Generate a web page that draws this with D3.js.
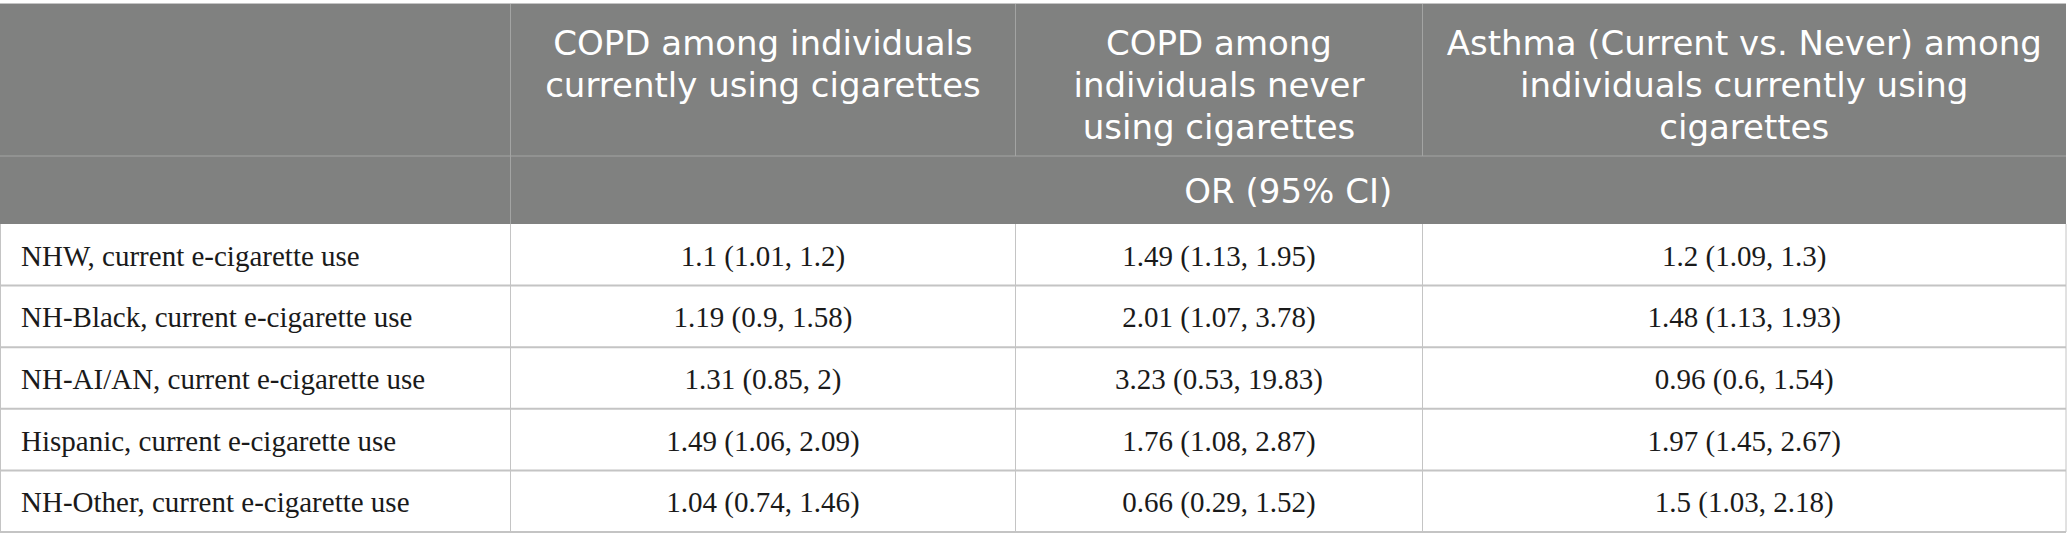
<!DOCTYPE html>
<html>
<head>
<meta charset="utf-8">
<script src="https://cdn.jsdelivr.net/npm/d3@7"></script>
<style>
  body { margin: 0; background: #fff; }
</style>
</head>
<body>
<div id="table"></div>
<script>
// Data
var columnHeaders = [
  "",
  ["COPD among individuals", "currently using cigarettes"],
  ["COPD among", "individuals never", "using cigarettes"],
  ["Asthma (Current vs. Never) among", "individuals currently using", "cigarettes"]
]
var subHeader = "OR (95% CI)"
var rowLabels = [
  "NHW, current e-cigarette use",
  "NH-Black, current e-cigarette use",
  "NH-AI/AN, current e-cigarette use",
  "Hispanic, current e-cigarette use",
  "NH-Other, current e-cigarette use"
]
var copdCurrent = ["1.1 (1.01, 1.2)", "1.19 (0.9, 1.58)", "1.31 (0.85, 2)", "1.49 (1.06, 2.09)", "1.04 (0.74, 1.46)"]
var copdNever = ["1.49 (1.13, 1.95)", "2.01 (1.07, 3.78)", "3.23 (0.53, 19.83)", "1.76 (1.08, 2.87)", "0.66 (0.29, 1.52)"]
var asthmaCurrent = ["1.2 (1.09, 1.3)", "1.48 (1.13, 1.93)", "0.96 (0.6, 1.54)", "1.97 (1.45, 2.67)", "1.5 (1.03, 2.18)"]

// Layout
var width = 2067
var height = 550
var colEdges = [0.5, 510.5, 1015.5, 1422.5, 2066]
var headTop = 4
var headBottom = 156
var subBottom = 224
var bodyBottom = 532
var headFill = "#808180"
var headFont = "'DejaVu Sans'"
var headSize = "34px"

var svg = d3.select('#table').append('svg')
  .attr("width", width)
  .attr("height", height)

var y = d3.scaleBand()
  .domain(rowLabels)
  .range([subBottom, bodyBottom])

var columns = [rowLabels, copdCurrent, copdNever, asthmaCurrent]

// Header background
svg.append("rect")
  .attr("x", 0).attr("y", headTop)
  .attr("width", colEdges[4]).attr("height", subBottom - headTop)
  .attr("fill", headFill)

// Header grid lines
var headLines = svg.append("g").attr("stroke", "#a3a4a3").attr("stroke-width", 1)
headLines.append("line")
  .attr("x1", 0).attr("x2", colEdges[4])
  .attr("y1", headBottom).attr("y2", headBottom)
headLines.selectAll(".v")
  .data(colEdges.slice(1, 4))
  .enter().append("line")
  .attr("x1", d => d).attr("x2", d => d)
  .attr("y1", headTop).attr("y2", (d, i) => i == 0 ? subBottom : headBottom)

// Header text
columnHeaders.forEach(function(lines, c) {
  if (!lines.length) return
  var cx = (colEdges[c] + colEdges[c + 1]) / 2
  svg.append("g").selectAll("text")
    .data(lines)
    .enter().append("text")
    .attr("x", cx)
    .attr("y", (d, i) => 55 + i * 42)
    .attr("text-anchor", "middle")
    .attr("fill", "#fff")
    .style("font-family", headFont)
    .style("font-size", headSize)
    .text(d => d)
})

svg.append("text")
  .attr("x", (colEdges[1] + colEdges[4]) / 2)
  .attr("y", 203)
  .attr("text-anchor", "middle")
  .attr("fill", "#fff")
  .style("font-family", headFont)
  .style("font-size", headSize)
  .text(subHeader)

// Body grid
var bodyLines = svg.append("g").attr("stroke", "#c4c4c4")
bodyLines.selectAll(".h")
  .data(rowLabels)
  .enter().append("line")
  .attr("x1", 0).attr("x2", colEdges[4])
  .attr("y1", d => y(d) + y.bandwidth()).attr("y2", d => y(d) + y.bandwidth())
  .attr("stroke-width", 2)
bodyLines.selectAll(".v")
  .data(colEdges)
  .enter().append("line")
  .attr("x1", d => d).attr("x2", d => d)
  .attr("y1", subBottom).attr("y2", bodyBottom)
  .attr("stroke-width", 1)

// Outer top border
svg.append("line")
  .attr("x1", 0).attr("x2", colEdges[4])
  .attr("y1", headTop - 0.5).attr("y2", headTop - 0.5)
  .attr("stroke", "#c4c4c4")

// Body text
columns.forEach(function(col, c) {
  svg.append("g").selectAll("text")
    .data(col)
    .enter().append("text")
    .attr("x", c == 0 ? 21 : (colEdges[c] + colEdges[c + 1]) / 2)
    .attr("y", (d, i) => y(rowLabels[i]) + y.bandwidth() / 2 + 11)
    .attr("text-anchor", c == 0 ? "start" : "middle")
    .attr("fill", "#1a1a1a")
    .style("font-family", "'Liberation Serif'")
    .style("font-size", "29px")
    .text(d => d)
})
</script>
</body>
</html>
